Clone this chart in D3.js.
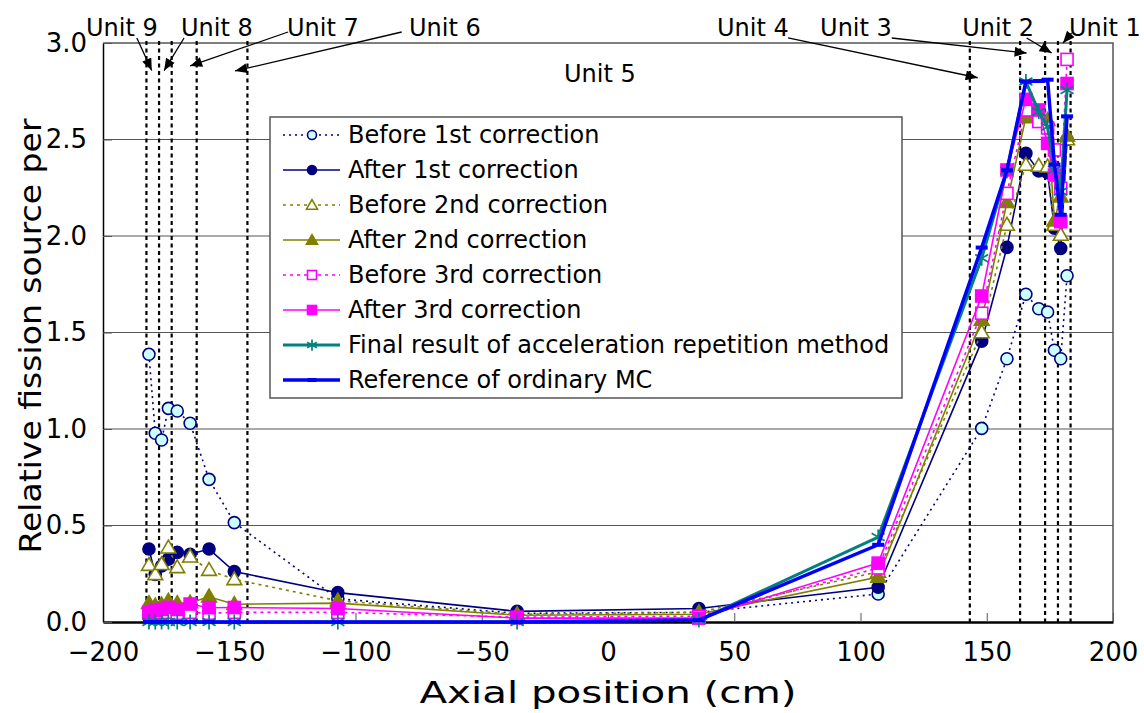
<!DOCTYPE html>
<html>
<head>
<meta charset="utf-8">
<script src="https://cdn.jsdelivr.net/npm/d3@7"></script>
<style>
  body { margin: 0; background: #fff; }
  text { font-family: "DejaVu Sans", sans-serif; fill: #000; }
</style>
</head>
<body>
<div id="chart"></div>
<script>
// axial positions (cm) of the tallies
var xPos = [-181.8, -179.3, -176.8, -174.1, -170.6, -165.5, -158, -148, -107, -36,
            36, 107, 148, 158, 165.5, 170.6, 174.1, 176.8, 179.3, 181.8];

var before1 = [1.387, 0.978, 0.943, 1.107, 1.093, 1.03, 0.739, 0.515, 0.12, 0.045,
               0.05, 0.145, 1.003, 1.364, 1.698, 1.623, 1.606, 1.408, 1.364, 1.794];
var after1  = [0.378, 0.247, 0.29, 0.326, 0.361, 0.351, 0.378, 0.261, 0.152, 0.055,
               0.07, 0.18, 1.455, 1.941, 2.428, 2.337, 2.328, 2.04, 1.936, 2.5];
var before2 = [0.295, 0.247, 0.299, 0.385, 0.283, 0.338, 0.269, 0.221, 0.11, 0.04,
               0.05, 0.26, 1.5, 2.057, 2.368, 2.363, 2.359, 2.057, 2.005, 2.5];
var after2  = [0.097, 0.085, 0.09, 0.109, 0.097, 0.1, 0.131, 0.092, 0.098, 0.035,
               0.04, 0.233, 1.565, 2.175, 2.615, 2.64, 2.6, 2.08, 2.204, 2.52];
var before3 = [0.045, 0.04, 0.05, 0.05, 0.045, 0.05, 0.045, 0.05, 0.05, 0.025,
               0.03, 0.28, 1.6, 2.221, 2.653, 2.593, 2.56, 2.446, 2.247, 2.915];
var after3  = [0.05, 0.06, 0.065, 0.075, 0.065, 0.093, 0.074, 0.075, 0.07, 0.02,
               0.02, 0.305, 1.689, 2.342, 2.708, 2.653, 2.48, 2.316, 2.074, 2.79];
var finalRes = [0, 0, 0, 0, 0, 0, 0, 0, 0, 0,
                0.01, 0.44, 1.885, 2.338, 2.8, 2.644, 2.566, 2.342, 2.23, 2.756];
var reference = [0, 0, 0, 0, 0, 0, 0, 0, 0, 0,
                 0.01, 0.4, 1.94, 2.34, 2.8, 2.803, 2.81, 2.37, 2.11, 2.62];

var seriesNames = ["Before 1st correction", "After 1st correction", "Before 2nd correction",
  "After 2nd correction", "Before 3rd correction", "After 3rd correction",
  "Final result of acceleration repetition method", "Reference of ordinary MC"];

// unit boundaries (dotted lines), cm
var unitLines = [-182.8, -177.8, -172.8, -162.9, -142.8, 143.3, 163.2, 173.1, 178.2, 183.2];

// unit labels and arrows: label position, arrow tail, arrow tip (data units)
var unitNames = ["Unit 9", "Unit 8", "Unit 7", "Unit 6", "Unit 4", "Unit 3", "Unit 2", "Unit 1"];
var unitLabelX = [-192.5, -154.9, -112.9, -64.6, 57.4, 98.2, 154.5, 196.8];
var arrowTail = [[-186.6, 3.026], [-167.9, 3.026], [-126.7, 3.057], [-81.7, 3.057],
                 [71.3, 3.026], [112.4, 3.026], [165.8, 3.026], [183.6, 3.052]];
var arrowTip  = [[-180.7, 2.857], [-175.8, 2.857], [-165.5, 2.881], [-147.7, 2.855],
                 [146.4, 2.82], [165.8, 2.948], [175.7, 2.948], [180.2, 3.0]];

var xTicks = [-200, -150, -100, -50, 0, 50, 100, 150, 200];
var yTicks = [0, 0.5, 1, 1.5, 2, 2.5, 3];

var W = 1144, H = 713;
var svg = d3.select("#chart").append("svg").attr("width", W).attr("height", H);

var x = d3.scaleLinear().domain([-200, 200]).range([103, 1113]);
var y = d3.scaleLinear().domain([0, 3]).range([622, 43]);

// grid
svg.append("g").selectAll("line").data(yTicks.slice(1, -1)).enter().append("line")
  .attr("x1", x(-200)).attr("x2", x(200))
  .attr("y1", function(d) { return y(d); }).attr("y2", function(d) { return y(d); })
  .attr("stroke", "#555").attr("stroke-width", 1);

// frame top / right
svg.append("path")
  .attr("d", "M" + x(-200) + "," + y(3) + "H" + x(200) + "V" + y(0))
  .attr("fill", "none").attr("stroke", "#555").attr("stroke-width", 1.5);

// unit dotted lines
svg.append("g").selectAll("line").data(unitLines).enter().append("line")
  .attr("x1", function(d) { return x(d); }).attr("x2", function(d) { return x(d); })
  .attr("y1", y(3) - 2).attr("y2", y(0))
  .attr("stroke", "#000").attr("stroke-width", 2.2).attr("stroke-dasharray", "4,3.5");

// axes
var xAxis = svg.append("g").attr("transform", "translate(0," + y(0) + ")")
  .call(d3.axisBottom(x).tickValues(xTicks).tickSizeInner(-9).tickSizeOuter(0).tickPadding(21)
        .tickFormat(function(d) { return d < 0 ? "\u2212" + (-d) : d; }));
xAxis.select(".domain").attr("stroke", "#000").attr("stroke-width", 2.5);
xAxis.selectAll(".tick line").attr("stroke", "#555");
xAxis.selectAll("text").attr("font-size", 26).attr("font-family", "Liberation Sans, Arial, sans-serif");

var yAxis = svg.append("g").attr("transform", "translate(" + x(-200) + ",0)")
  .call(d3.axisLeft(y).tickValues(yTicks).tickSizeInner(-9).tickSizeOuter(0).tickPadding(16)
        .tickFormat(d3.format(".1f")));
yAxis.select(".domain").attr("stroke", "#000").attr("stroke-width", 1.5);
yAxis.selectAll(".tick line").attr("stroke", "#555");
yAxis.selectAll("text").attr("font-size", 26).attr("font-family", "Liberation Sans, Arial, sans-serif");

svg.append("text").attr("x", 608).attr("y", 703).attr("text-anchor", "middle")
  .attr("font-size", 31).attr("textLength", 377).attr("lengthAdjust", "spacingAndGlyphs")
  .text("Axial position (cm)");
svg.append("text").attr("transform", "translate(41,336) rotate(-90)").attr("text-anchor", "middle")
  .attr("font-size", 30).attr("textLength", 435).attr("lengthAdjust", "spacingAndGlyphs")
  .text("Relative fission source per");

// series styles
var navy = "#000080", olive = "#808000", magenta = "#ff00ff", teal = "#008080", blue = "#0000ff";
var series = [
  {name: seriesNames[0], values: before1,  color: navy,    width: 1.6, dash: "2,4", marker: "circle",   fill: "#ccffff"},
  {name: seriesNames[1], values: after1,   color: navy,    width: 1.6, dash: null,  marker: "circle",   fill: navy},
  {name: seriesNames[2], values: before2,  color: olive,   width: 1.6, dash: "3,4", marker: "triangle", fill: "#fff"},
  {name: seriesNames[3], values: after2,   color: olive,   width: 1.6, dash: null,  marker: "triangle", fill: olive},
  {name: seriesNames[4], values: before3,  color: magenta, width: 1.6, dash: "3,4", marker: "square",   fill: "#fff"},
  {name: seriesNames[5], values: after3,   color: magenta, width: 1.6, dash: null,  marker: "square",   fill: magenta},
  {name: seriesNames[6], values: finalRes, color: teal,    width: 3,   dash: null,  marker: "star",     fill: "none"},
  {name: seriesNames[7], values: reference,color: blue,    width: 3.5, dash: null,  marker: "dash",     fill: "none"}
];

var line = d3.line().x(function(d) { return x(d[0]); }).y(function(d) { return y(d[1]); });

function drawMarker(g, s, cx, cy, k) {
  if (s.marker === "circle") {
    g.append("circle").attr("cx", cx).attr("cy", cy).attr("r", 6 * k)
      .attr("fill", s.fill).attr("stroke", navy).attr("stroke-width", 1.6);
  } else if (s.marker === "triangle") {
    g.append("path").attr("d", d3.symbol().type(d3.symbolTriangle).size(95 * k * k)())
      .attr("transform", "translate(" + cx + "," + (cy + 1) + ")")
      .attr("fill", s.fill).attr("stroke", olive).attr("stroke-width", 1.6);
  } else if (s.marker === "square") {
    var h = 6 * k;
    g.append("rect").attr("x", cx - h).attr("y", cy - h).attr("width", 2 * h).attr("height", 2 * h)
      .attr("fill", s.fill).attr("stroke", magenta).attr("stroke-width", 1.6);
  } else if (s.marker === "star") {
    var r = 7.5 * k;
    g.append("path")
      .attr("d", "M" + cx + "," + (cy - r) + "V" + (cy + r) +
                 "M" + (cx - r * 0.87) + "," + (cy - r * 0.5) + "L" + (cx + r * 0.87) + "," + (cy + r * 0.5) +
                 "M" + (cx - r * 0.87) + "," + (cy + r * 0.5) + "L" + (cx + r * 0.87) + "," + (cy - r * 0.5))
      .attr("stroke", teal).attr("stroke-width", 1.7).attr("fill", "none");
  } else if (s.marker === "dash") {
    g.append("line").attr("x1", cx - 6 * k).attr("x2", cx + 6 * k).attr("y1", cy).attr("y2", cy)
      .attr("stroke", blue).attr("stroke-width", 4);
  }
}

series.forEach(function(s) {
  var pts = xPos.map(function(v, i) { return [v, s.values[i]]; });
  var g = svg.append("g");
  g.append("path").datum(pts).attr("d", line)
    .attr("fill", "none").attr("stroke", s.color).attr("stroke-width", s.width)
    .attr("stroke-dasharray", s.dash);
  pts.forEach(function(p) { drawMarker(g, s, x(p[0]), y(p[1]), 1); });
});

// legend
var lg = svg.append("g").attr("transform", "translate(270,117)");
lg.append("rect").attr("width", 632).attr("height", 281)
  .attr("fill", "#fff").attr("stroke", "#555").attr("stroke-width", 1.5);
series.forEach(function(s, i) {
  var cy = 18 + i * 35;
  lg.append("line").attr("x1", 13).attr("x2", 70).attr("y1", cy).attr("y2", cy)
    .attr("stroke", s.color).attr("stroke-width", s.width).attr("stroke-dasharray", s.dash);
  drawMarker(lg, s, 42, cy, 0.75);
  lg.append("text").attr("x", 78).attr("y", cy + 8).attr("font-size", 24).text(s.name);
});

// unit annotations
svg.append("defs").append("marker").attr("id", "arrow")
  .attr("viewBox", "0 0 12 10").attr("refX", 12).attr("refY", 5)
  .attr("markerWidth", 13).attr("markerHeight", 10).attr("markerUnits", "userSpaceOnUse")
  .attr("orient", "auto")
  .append("path").attr("d", "M0,0L12,5L0,10Z").attr("fill", "#000");

unitNames.forEach(function(n, i) {
  svg.append("text").attr("x", x(unitLabelX[i])).attr("y", 36).attr("text-anchor", "middle")
    .attr("font-size", 24).text(n);
  svg.append("line")
    .attr("x1", x(arrowTail[i][0])).attr("y1", y(arrowTail[i][1]))
    .attr("x2", x(arrowTip[i][0])).attr("y2", y(arrowTip[i][1]))
    .attr("stroke", "#000").attr("stroke-width", 1.3).attr("marker-end", "url(#arrow)");
});
svg.append("text").attr("x", x(-3.2)).attr("y", 82).attr("text-anchor", "middle")
  .attr("font-size", 24).text("Unit 5");
</script>
</body>
</html>
